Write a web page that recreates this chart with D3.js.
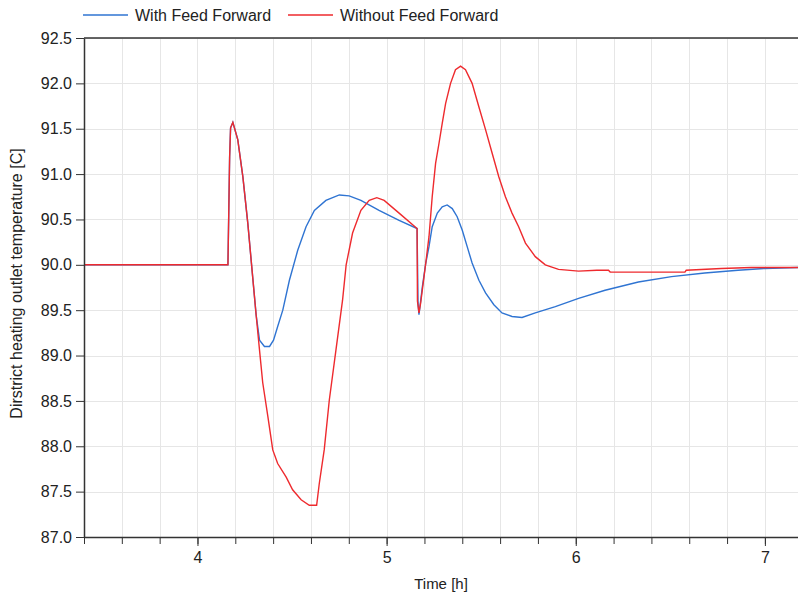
<!DOCTYPE html>
<html>
<head>
<meta charset="utf-8">
<script src="https://cdn.jsdelivr.net/npm/d3@7"></script>
<style>
  body { margin: 0; background: #fff; }
  svg { font-family: "Liberation Sans", Arial, sans-serif; }
  .grid line { stroke: #e6e6e6; stroke-width: 1; }
  .axis path, .axis line { stroke: #333; }
  .axis text { font-size: 16px; fill: #222; font-family: "Liberation Sans", Arial, sans-serif; }
</style>
</head>
<body>
<div id="chart"></div>
<script>
// series labels
var seriesNames = ['With Feed Forward', 'Without Feed Forward'];

// time [h] and temperature [C]
var withTime = [3.4, 4.161, 4.170, 4.175, 4.187, 4.213, 4.240, 4.266, 4.286, 4.310,
  4.328, 4.354, 4.381, 4.402, 4.424, 4.451, 4.486, 4.530, 4.574, 4.618, 4.679,
  4.750, 4.802, 4.864, 4.960, 5.066, 5.161, 5.166, 5.171, 5.189, 5.207, 5.224,
  5.241, 5.268, 5.294, 5.320, 5.347, 5.373, 5.400, 5.426, 5.452, 5.488, 5.523,
  5.567, 5.610, 5.663, 5.716, 5.786, 5.892, 6.015, 6.155, 6.331, 6.506, 6.682,
  6.858, 6.999, 7.175];
var withTemp = [90.0, 90.0, 91.19, 91.51, 91.57, 91.38, 90.97, 90.46, 90.0, 89.45,
  89.17, 89.10, 89.10, 89.17, 89.32, 89.50, 89.83, 90.16, 90.42, 90.60, 90.71,
  90.77, 90.76, 90.71, 90.60, 90.49, 90.40, 89.58, 89.45, 89.76, 90.02, 90.20,
  90.42, 90.57, 90.64, 90.66, 90.62, 90.53, 90.38, 90.20, 90.02, 89.83, 89.69,
  89.56, 89.47, 89.43, 89.42, 89.47, 89.54, 89.63, 89.72, 89.81, 89.87, 89.91,
  89.94, 89.96, 89.97];

var withoutTime = [3.4, 4.161, 4.170, 4.175, 4.187, 4.213, 4.240, 4.266, 4.286, 4.310,
  4.328, 4.345, 4.372, 4.398, 4.424, 4.469, 4.503, 4.548, 4.591, 4.630, 4.644,
  4.670, 4.697, 4.732, 4.767, 4.786, 4.820, 4.864, 4.908, 4.948, 4.987, 5.066,
  5.161, 5.163, 5.171, 5.180, 5.207, 5.224, 5.241, 5.259, 5.277, 5.294, 5.312,
  5.338, 5.364, 5.391, 5.417, 5.452, 5.488, 5.523, 5.558, 5.593, 5.628, 5.663,
  5.698, 5.734, 5.786, 5.839, 5.909, 6.015, 6.111, 6.173, 6.182, 6.577, 6.584,
  6.770, 6.928, 7.175];
var withoutTemp = [90.0, 90.0, 91.19, 91.51, 91.57, 91.38, 90.97, 90.46, 90.0, 89.45,
  89.06, 88.70, 88.33, 87.96, 87.81, 87.66, 87.52, 87.41, 87.35, 87.35, 87.59,
  87.96, 88.51, 89.06, 89.61, 90.0, 90.35, 90.60, 90.71, 90.74, 90.71, 90.57,
  90.40, 89.60, 89.47, 89.58, 90.02, 90.31, 90.75, 91.12, 91.34, 91.56, 91.78,
  92.0, 92.15, 92.19, 92.15, 92.0, 91.74, 91.49, 91.23, 90.97, 90.75, 90.57,
  90.42, 90.24, 90.09, 90.0, 89.95, 89.93, 89.94, 89.94, 89.92, 89.92, 89.94,
  89.96, 89.97, 89.97];

var xTicks = [4, 5, 6, 7];
var yTicks = [87.0, 87.5, 88.0, 88.5, 89.0, 89.5, 90.0, 90.5, 91.0, 91.5, 92.0, 92.5];

var colors = ['#2f74d2', '#ee2a2e'];

var W = 798, H = 595;
var margin = { top: 38, right: 0, bottom: 58, left: 84 };
var width = W - margin.left - margin.right;
var height = H - margin.top - margin.bottom;

var svg = d3.select('#chart').append('svg')
  .attr('width', W)
  .attr('height', H);

var g = svg.append('g')
  .attr('transform', 'translate(' + margin.left + ',' + margin.top + ')');

var x = d3.scaleLinear().domain([3.4, 7.175]).range([0, width]);
var y = d3.scaleLinear().domain([87, 92.5]).range([height, 0]);

// minor ticks every 0.2 h
var minorTicks = d3.range(3.4, 7.18, 0.2).map(function(d) { return +d.toFixed(1); });

// grid
var grid = g.append('g').attr('class', 'grid');
grid.selectAll('.vg')
  .data(minorTicks)
  .enter().append('line')
  .attr('x1', function(d) { return Math.round(x(d)) + 0.5; })
  .attr('x2', function(d) { return Math.round(x(d)) + 0.5; })
  .attr('y1', 0).attr('y2', height);
grid.selectAll('.hg')
  .data(yTicks)
  .enter().append('line')
  .attr('x1', 0).attr('x2', width)
  .attr('y1', function(d) { return Math.round(y(d)) + 0.5; })
  .attr('y2', function(d) { return Math.round(y(d)) + 0.5; });

// lines
var line = d3.line()
  .x(function(d) { return x(d[0]); })
  .y(function(d) { return y(d[1]); });

var seriesData = [
  d3.zip(withTime, withTemp),
  d3.zip(withoutTime, withoutTemp)
];

g.selectAll('.series')
  .data(seriesData)
  .enter().append('path')
  .attr('class', 'series')
  .attr('fill', 'none')
  .attr('stroke', function(d, i) { return colors[i]; })
  .attr('stroke-width', 1.4)
  .attr('d', line);

// top border
g.append('line')
  .attr('x1', 0).attr('x2', width)
  .attr('y1', 0).attr('y2', 0)
  .attr('stroke', '#333').attr('stroke-width', 1.5);

// x axis: minor ticks then major
g.append('g')
  .attr('class', 'axis')
  .attr('transform', 'translate(0,' + height + ')')
  .call(d3.axisBottom(x).tickValues(minorTicks).tickSize(7).tickFormat('').tickSizeOuter(0))
  .select('.domain').attr('stroke-width', 1.5);

g.append('g')
  .attr('class', 'axis')
  .attr('transform', 'translate(0,' + height + ')')
  .call(d3.axisBottom(x).tickValues(xTicks).tickSize(9).tickPadding(6).tickFormat(d3.format('d')).tickSizeOuter(0))
  .select('.domain').remove();

// y axis
g.append('g')
  .attr('class', 'axis')
  .call(d3.axisLeft(y).tickValues(yTicks).tickSize(8).tickPadding(4).tickFormat(d3.format('.1f')).tickSizeOuter(0))
  .select('.domain').attr('stroke-width', 1.5);

// axis titles
svg.append('text')
  .attr('x', margin.left + width / 2)
  .attr('y', 589)
  .attr('text-anchor', 'middle')
  .style('font-size', '15px')
  .attr('fill', '#222')
  .text('Time [h]');

svg.append('text')
  .attr('transform', 'translate(22,' + (margin.top + height / 2 - 4) + ') rotate(-90)')
  .attr('text-anchor', 'middle')
  .style('font-size', '16px')
  .attr('fill', '#222')
  .text('Dirstrict heating outlet temperature [C]');

// legend
var legendX = [83, 288];
var legend = svg.selectAll('.legend')
  .data(seriesNames)
  .enter().append('g')
  .attr('transform', function(d, i) { return 'translate(' + legendX[i] + ',15)'; });
legend.append('line')
  .attr('x1', 0).attr('x2', 45)
  .attr('stroke', function(d, i) { return colors[i]; })
  .attr('stroke-width', 1.5);
legend.append('text')
  .attr('x', 52)
  .attr('dy', '0.35em')
  .style('font-size', '16px')
  .attr('fill', '#222')
  .text(function(d) { return d; });
</script>
</body>
</html>
